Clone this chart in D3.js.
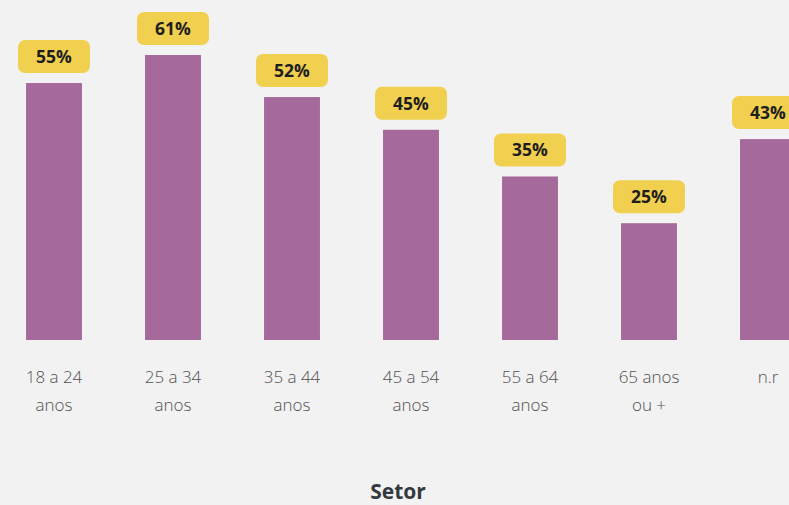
<!DOCTYPE html>
<html>
<head>
<meta charset="utf-8">
<script src="https://cdn.jsdelivr.net/npm/d3@7"></script>
<style>
  body { margin: 0; background: #f2f2f2; }
  svg { display: block; }
</style>
</head>
<body>
<svg id="chart" width="789" height="505"></svg>
<script>
let categories = ["18 a 24|anos", "25 a 34|anos", "35 a 44|anos", "45 a 54|anos", "55 a 64|anos", "65 anos|ou +", "n.r"]
let values = [55, 61, 52, 45, 35, 25, 43]
let axisTitle = "Setor"

let width = 789
let height = 505

let svg = d3.select("#chart")

// background
svg.append("rect")
    .attr("width", width)
    .attr("height", height)
    .attr("fill", "#f2f2f2")

let x = d3.scaleBand()
    .domain(categories)
    .range([-5.5, 827.5])
    .paddingInner(0.53)
    .paddingOuter(0.265)

let y = d3.scaleLinear()
    .domain([0, 61])
    .range([340, 55])

// bars
svg.selectAll(".bar")
    .data(values)
    .join("rect")
    .attr("class", "bar")
    .attr("x", (d, i) => x(categories[i]))
    .attr("y", d => y(d))
    .attr("width", x.bandwidth())
    .attr("height", d => y(0) - y(d))
    .attr("fill", "#a56a9b")

// value labels in yellow boxes
let boxW = 72, boxH = 33
let labels = svg.selectAll(".lbl")
    .data(values)
    .join("g")
    .attr("class", "lbl")
    .attr("transform", (d, i) => `translate(${x(categories[i]) + x.bandwidth() / 2},${y(d) - 10 - boxH})`)

labels.append("rect")
    .attr("x", -boxW / 2)
    .attr("y", 0)
    .attr("width", boxW)
    .attr("height", boxH)
    .attr("rx", 7)
    .attr("fill", "#f1cf4f")

labels.append("text")
    .attr("x", 0)
    .attr("y", boxH / 2)
    .attr("dy", "0.36em")
    .attr("text-anchor", "middle")
    .style("font-family", "'Open Sans', 'Noto Sans', sans-serif")
    .style("font-weight", "bold")
    .style("font-size", "17.5px")
    .style("fill", "#1e1e1e")
    .text(d => d + "%")

// category axis labels (no line, no ticks)
let xAxis = svg.append("g")
    .attr("class", "x axis")
    .attr("transform", `translate(0,${y(0)})`)
    .call(d3.axisBottom(x).tickSize(0).tickFormat(""))
xAxis.select(".domain").remove()

xAxis.selectAll(".tick")
    .append("text")
    .attr("text-anchor", "middle")
    .style("font-family", "'Open Sans', 'Noto Sans', sans-serif")
    .style("font-weight", "300")
    .style("font-size", "17px")
    .style("fill", "#505050")
    .each(function (d) {
        let lines = d.split("|")
        let t = d3.select(this)
        lines.forEach((s, k) => {
            t.append("tspan")
                .attr("x", 0)
                .attr("y", 43 + k * 28)
                .text(s)
        })
    })

svg.append("text")
    .attr("x", 398)
    .attr("y", 499)
    .attr("text-anchor", "middle")
    .style("font-family", "'Open Sans', 'Noto Sans', sans-serif")
    .style("font-weight", "bold")
    .style("font-size", "21px")
    .style("fill", "#333a3f")
    .text(axisTitle)
</script>
</body>
</html>
